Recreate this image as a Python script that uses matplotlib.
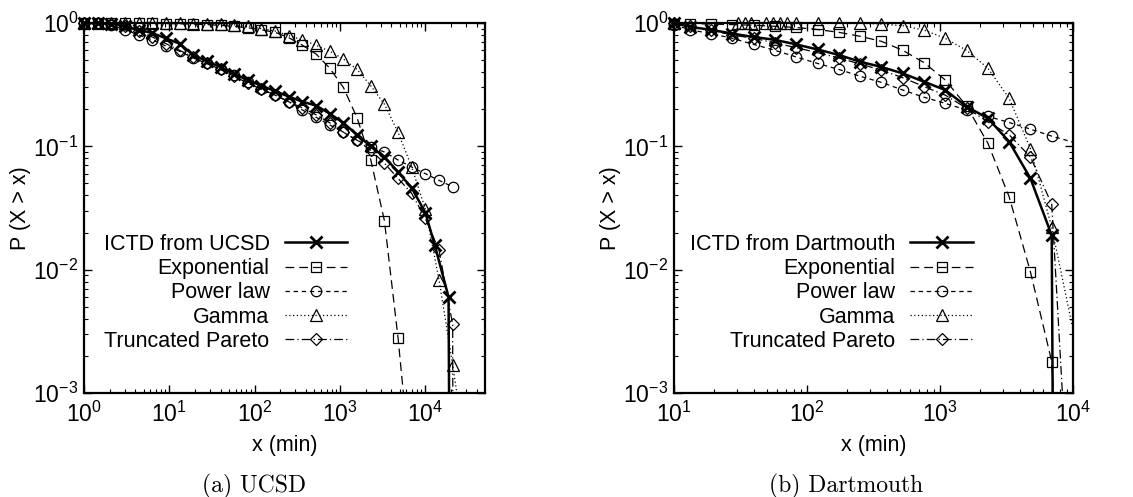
import numpy as np
import matplotlib
matplotlib.use('Agg')
import matplotlib.pyplot as plt
from matplotlib.ticker import LogLocator, NullFormatter

plt.rcParams['font.family'] = ['Liberation Sans', 'DejaVu Sans']
plt.rcParams['mathtext.default'] = 'regular'

# ---- (a) UCSD ----
ucsd_x = [1, 1.45, 2.09, 3.02, 4.37, 6.31, 9.12, 13.2, 19.1, 27.5, 39.8, 57.5, 83.2, 120,
          174, 251, 363, 525, 759, 1096, 1585, 2291, 3311, 4786, 6918, 10000, 14454, 20893, 30200]
ucsd_ictd_x = [1, 1.45, 2.09, 3.02, 4.37, 6.31, 9.12, 13.2, 19.1, 27.5, 39.8, 57.5, 83.2, 120,
               174, 251, 363, 525, 759, 1096, 1585, 2291, 3311, 4786, 6918, 10000, 12900, 18700, 20000]
ucsd_ictd = [1.0, 1.0, 0.99, 0.94, 0.88, 0.83, 0.75, 0.68, 0.55, 0.49, 0.44, 0.385, 0.345, 0.31,
             0.28, 0.253, 0.23, 0.214, 0.184, 0.155, 0.124, 0.1, 0.082, 0.062, 0.046, 0.029,
             0.0158, 0.006, 1e-6]
ucsd_exp = [1.0, 1.0, 1.0, 1.0, 0.995, 0.993, 0.99, 0.985, 0.979, 0.97, 0.957, 0.938, 0.915, 0.88,
            0.84, 0.76, 0.66, 0.56, 0.43, 0.30, 0.17, 0.078, 0.025, 0.0028, 2e-4]
ucsd_pow = [1.0, 1.0, 0.96, 0.88, 0.80, 0.73, 0.65, 0.59, 0.52, 0.47, 0.42, 0.38, 0.33, 0.29,
            0.26, 0.23, 0.197, 0.172, 0.149, 0.13, 0.112, 0.099, 0.09, 0.0775, 0.068, 0.06,
            0.053, 0.047]
ucsd_gam = [1.0, 1.0, 1.0, 1.0, 1.0, 1.0, 1.0, 0.995, 0.99, 0.985, 0.98, 0.965, 0.95, 0.90,
            0.86, 0.79, 0.73, 0.66, 0.59, 0.51, 0.42, 0.31, 0.22, 0.13, 0.068, 0.031, 0.0083,
            0.0017, 3e-4]
ucsd_tp_x = ucsd_x[:28] + [21500]
ucsd_tp = [1.0, 1.0, 0.98, 0.94, 0.86, 0.77, 0.68, 0.60, 0.53, 0.47, 0.42, 0.37, 0.325, 0.29,
           0.26, 0.23, 0.205, 0.18, 0.155, 0.13, 0.112, 0.093, 0.073, 0.055, 0.0415, 0.026,
           0.0144, 0.0036, 1e-6]

# ---- (b) Dartmouth ----
dart_x = [10, 13.2, 19.1, 27.5, 39.8, 57.5, 83.2, 120, 174, 251, 363, 525, 759, 1096, 1585,
          2291, 3311, 4786, 6918]
dart_ictd_x = dart_x + [7300]
dart_ictd = [1.0, 0.93, 0.88, 0.82, 0.77, 0.73, 0.67, 0.61, 0.55, 0.485, 0.44, 0.39, 0.334,
             0.286, 0.21, 0.169, 0.109, 0.055, 0.019, 1e-6]
dart_exp_x = dart_x + [10000]
dart_exp = [0.99, 0.99, 0.98, 0.97, 0.96, 0.94, 0.92, 0.885, 0.84, 0.78, 0.71, 0.60, 0.477,
            0.345, 0.212, 0.106, 0.039, 0.0096, 0.0018, 1e-6]
dart_pow_x = dart_x + [11000]
dart_pow = [0.97, 0.88, 0.82, 0.75, 0.67, 0.60, 0.53, 0.47, 0.42, 0.37, 0.33, 0.286, 0.25,
            0.223, 0.197, 0.175, 0.156, 0.138, 0.121, 0.105]
dart_gam_x = [10, 30.4, 34, 38, 49.5, 55.6, 63, 71, 83.2, 120, 174, 251, 363, 525, 759, 1096,
              1585, 2291, 3311, 4786, 6918, 11000]
dart_gam = [1.0, 1.0, 1.0, 1.0, 1.0, 1.0, 1.0, 1.0, 1.0, 1.0, 1.0, 0.995, 0.98, 0.95, 0.877,
            0.75, 0.60, 0.43, 0.245, 0.096, 0.022, 0.002]
dart_tp_x = dart_x + [10000]
dart_tp = [1.0, 0.94, 0.87, 0.80, 0.75, 0.69, 0.63, 0.575, 0.52, 0.465, 0.415, 0.36, 0.305,
           0.26, 0.204, 0.158, 0.124, 0.082, 0.034, 3e-5]

fit_names = ['Exponential', 'Power law', 'Gamma', 'Truncated Pareto']

styles = [
    dict(lw=1.8, dashes=None, marker='x', ms=8, mew=2.0),
    dict(lw=0.9, dashes=(7, 4), marker='s', ms=7.5, mew=0.9),
    dict(lw=0.9, dashes=(3.5, 3), marker='o', ms=7.5, mew=0.9),
    dict(lw=0.9, dashes=(1, 2), marker='^', ms=8, mew=0.9),
    dict(lw=0.9, dashes=(7, 2.5, 1, 2.5), marker='D', ms=6, mew=0.9),
]

FS = 15.5


def draw(ax, series, labels, xlim, leg_anchor):
    ylim = (1e-3, 1)
    handles = []
    for i, (x, y) in enumerate(series):
        st = styles[i]
        x = np.array(x, dtype=float)
        y = np.array(y, dtype=float)
        z = 5 if i == 0 else 3
        if st['dashes'] is None:
            ln, = ax.plot(x, y, color='k', lw=st['lw'], zorder=z)
        else:
            ln, = ax.plot(x, y, color='k', lw=st['lw'], dashes=st['dashes'], zorder=z)
        keep = (x >= xlim[0] * 0.999) & (x <= xlim[1] * 1.001) & (y >= ylim[0] * 0.999) & (y <= ylim[1] * 1.001)
        mk, = ax.plot(x[keep], y[keep], ls='none', marker=st['marker'], ms=st['ms'],
                      mfc='none', mec='k', mew=st['mew'], clip_on=False, zorder=z + 1)
        handles.append((ln, mk))
    ax.set_xscale('log')
    ax.set_yscale('log')
    ax.set_xlim(*xlim)
    ax.set_ylim(*ylim)
    ax.xaxis.set_minor_locator(LogLocator(base=10, subs=np.arange(2, 10)))
    ax.yaxis.set_minor_locator(LogLocator(base=10, subs=np.arange(2, 10)))
    ax.xaxis.set_minor_formatter(NullFormatter())
    ax.yaxis.set_minor_formatter(NullFormatter())
    ax.tick_params(which='both', direction='in', top=True, right=True, labelsize=16.5)
    ax.tick_params(which='major', length=6, width=1)
    ax.tick_params(which='minor', length=3, width=0.8)
    ax.tick_params(axis='x', which='major', pad=6)
    ax.tick_params(axis='y', which='major', pad=4)
    for s in ax.spines.values():
        s.set_linewidth(1.6)
    ax.set_xlabel('x (min)', fontsize=FS, labelpad=6)
    ax.set_ylabel('P (X > x)', fontsize=FS, labelpad=2)
    ax.legend(handles, labels, loc='upper right', bbox_to_anchor=leg_anchor,
              markerfirst=False, frameon=False, fontsize=FS, handlelength=2.9,
              handletextpad=0.7, labelspacing=0.15, borderpad=0, borderaxespad=0)


fig = plt.figure(figsize=(11.33, 4.97), dpi=100)
ax1 = fig.add_axes([84 / 1133, 1 - 393 / 497, 401 / 1133, 370 / 497])
ax2 = fig.add_axes([674 / 1133, 1 - 393 / 497, 399 / 1133, 370 / 497])

draw(ax1,
     [(ucsd_ictd_x, ucsd_ictd), (ucsd_x[:len(ucsd_exp)], ucsd_exp),
      (ucsd_x[:len(ucsd_pow)], ucsd_pow), (ucsd_x[:len(ucsd_gam)], ucsd_gam),
      (ucsd_tp_x, ucsd_tp)],
     ['ICTD from UCSD'] + fit_names, (1, 5e4), (0.656, 0.43))
draw(ax2,
     [(dart_ictd_x, dart_ictd), (dart_exp_x, dart_exp), (dart_pow_x, dart_pow),
      (dart_gam_x, dart_gam), (dart_tp_x, dart_tp)],
     ['ICTD from Dartmouth'] + fit_names, (10, 1e4), (0.749, 0.43))

fig.text(254 / 1133, 1 - 486 / 497, '(a) UCSD', ha='center', va='center',
         family='cmr10', fontsize=17)
fig.text(846 / 1133, 1 - 486 / 497, '(b) Dartmouth', ha='center', va='center',
         family='cmr10', fontsize=17)

fig.savefig('out.png', dpi=100)
